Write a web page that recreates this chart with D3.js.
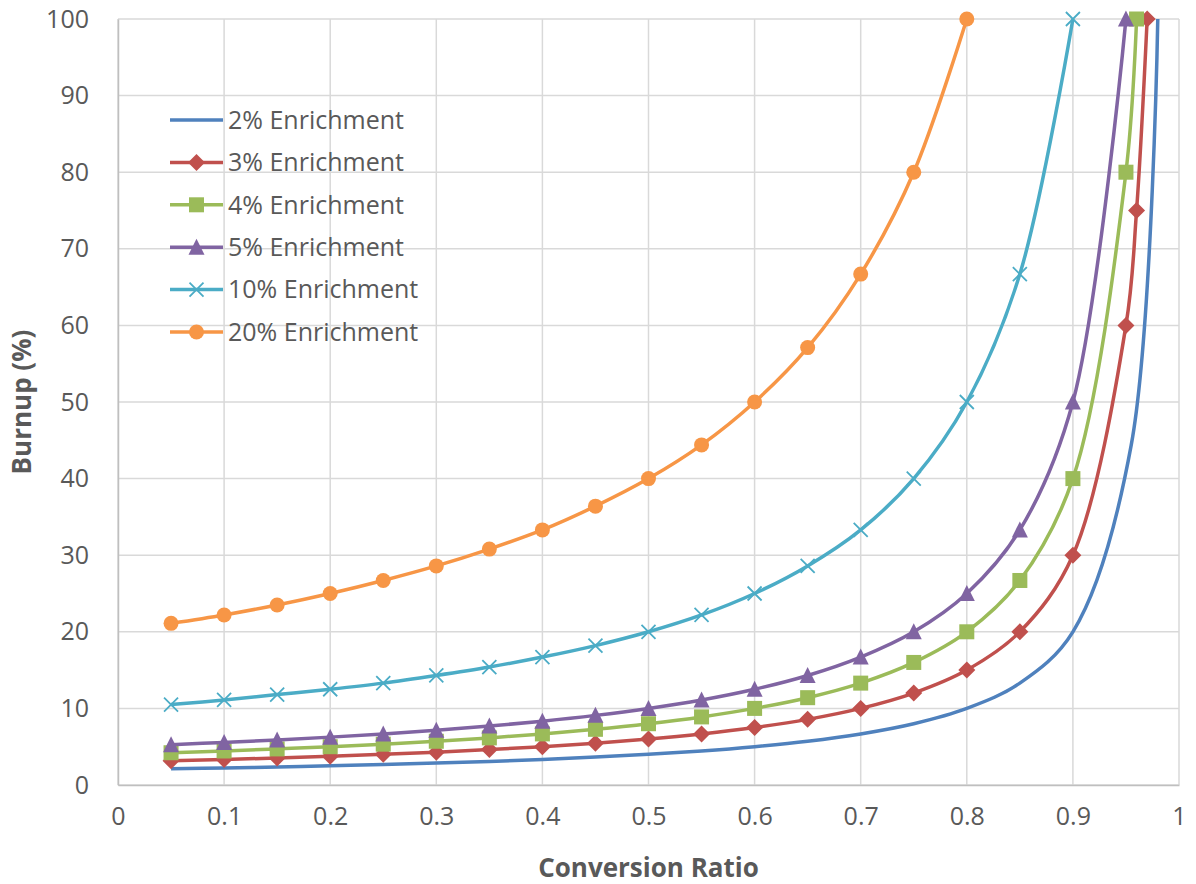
<!DOCTYPE html>
<html>
<head>
<meta charset="utf-8">
<script src="https://cdn.jsdelivr.net/npm/d3@7"></script>
<style>
  html, body { margin: 0; padding: 0; background: #ffffff; }
  svg { display: block; }
  text { font-family: "Open Sans", "Liberation Sans", sans-serif; }
</style>
</head>
<body>
<svg id="chart" width="1196" height="884"></svg>
<script>
// ---- data ----
const seriesNames = ["2% Enrichment", "3% Enrichment", "4% Enrichment", "5% Enrichment", "10% Enrichment", "20% Enrichment"];
const seriesColors = ["#4F81BD", "#C0504D", "#9BBB59", "#8064A2", "#4BACC6", "#F79646"];
const seriesMarkers = ["none", "diamond", "square", "triangle", "x", "circle"];

const cr2 = [0.05,0.10,0.15,0.20,0.25,0.30,0.35,0.40,0.45,0.50,0.55,0.60,0.65,0.70,0.75,0.80,0.85,0.90,0.955,0.98];
const bu2 = [2.11,2.22,2.35,2.50,2.67,2.86,3.08,3.33,3.64,4.00,4.44,5.00,5.71,6.67,8.00,10.0,13.3,20.0,44.4,100];

const cr3 = [0.05,0.10,0.15,0.20,0.25,0.30,0.35,0.40,0.45,0.50,0.55,0.60,0.65,0.70,0.75,0.80,0.85,0.90,0.95,0.96,0.97];
const bu3 = [3.16,3.33,3.53,3.75,4.00,4.29,4.62,5.00,5.45,6.00,6.67,7.50,8.57,10.0,12.0,15.0,20.0,30.0,60.0,75.0,100];

const cr4 = [0.05,0.10,0.15,0.20,0.25,0.30,0.35,0.40,0.45,0.50,0.55,0.60,0.65,0.70,0.75,0.80,0.85,0.90,0.95,0.96];
const bu4 = [4.21,4.44,4.71,5.00,5.33,5.71,6.15,6.67,7.27,8.00,8.89,10.0,11.4,13.3,16.0,20.0,26.7,40.0,80.0,100];

const cr5 = [0.05,0.10,0.15,0.20,0.25,0.30,0.35,0.40,0.45,0.50,0.55,0.60,0.65,0.70,0.75,0.80,0.85,0.90,0.95];
const bu5 = [5.26,5.56,5.88,6.25,6.67,7.14,7.69,8.33,9.09,10.0,11.1,12.5,14.3,16.7,20.0,25.0,33.3,50.0,100];

const cr10 = [0.05,0.10,0.15,0.20,0.25,0.30,0.35,0.40,0.45,0.50,0.55,0.60,0.65,0.70,0.75,0.80,0.85,0.90];
const bu10 = [10.5,11.1,11.8,12.5,13.3,14.3,15.4,16.7,18.2,20.0,22.2,25.0,28.6,33.3,40.0,50.0,66.7,100];

const cr20 = [0.05,0.10,0.15,0.20,0.25,0.30,0.35,0.40,0.45,0.50,0.55,0.60,0.65,0.70,0.75,0.80];
const bu20 = [21.1,22.2,23.5,25.0,26.7,28.6,30.8,33.3,36.4,40.0,44.4,50.0,57.1,66.7,80.0,100];

const xTicks = [0,0.1,0.2,0.3,0.4,0.5,0.6,0.7,0.8,0.9,1];
const xTickLabels = ["0","0.1","0.2","0.3","0.4","0.5","0.6","0.7","0.8","0.9","1"];
const yTicks = [0,10,20,30,40,50,60,70,80,90,100];

const xTitle = "Conversion Ratio";
const yTitle = "Burnup (%)";

const seriesX = [cr2, cr3, cr4, cr5, cr10, cr20];
const seriesY = [bu2, bu3, bu4, bu5, bu10, bu20];

// ---- layout ----
const svg = d3.select("#chart");
const plot = { left: 118, right: 1179, top: 19, bottom: 785 };
const x = d3.scaleLinear().domain([0, 1]).range([plot.left, plot.right]);
const y = d3.scaleLinear().domain([0, 100]).range([plot.bottom, plot.top]);
const textColor = "#595959";
const gridColor = "#D9D9D9";

// gridlines
const grid = svg.append("g");
grid.selectAll("line.v").data(xTicks).join("line")
  .attr("x1", d => x(d)).attr("x2", d => x(d))
  .attr("y1", plot.top).attr("y2", plot.bottom)
  .attr("stroke", gridColor).attr("stroke-width", 1.5);
grid.selectAll("line.h").data(yTicks).join("line")
  .attr("x1", plot.left).attr("x2", plot.right)
  .attr("y1", d => y(d)).attr("y2", d => y(d))
  .attr("stroke", gridColor).attr("stroke-width", 1.5);

// axes (labels only, using d3 axes)
const xAxis = d3.axisBottom(x).tickValues(xTicks).tickFormat((d, i) => xTickLabels[i]).tickSize(0).tickPadding(22);
const gx = svg.append("g").attr("transform", `translate(0,${plot.bottom})`).call(xAxis);
gx.select(".domain").attr("stroke", "#BFBFBF").attr("stroke-width", 1.5);
gx.selectAll("text").attr("fill", textColor).attr("font-size", 25).attr("font-family", "Open Sans");

const yAxis = d3.axisLeft(y).tickValues(yTicks).tickFormat(d3.format("d")).tickSize(0).tickPadding(29);
const gy = svg.append("g").attr("transform", `translate(${plot.left},0)`).call(yAxis);
gy.select(".domain").attr("stroke", "#BFBFBF").attr("stroke-width", 1.5);
gy.selectAll("text").attr("fill", textColor).attr("font-size", 25).attr("font-family", "Open Sans");

// axis titles
svg.append("text").text(xTitle)
  .attr("x", (plot.left + plot.right) / 2).attr("y", 877)
  .attr("text-anchor", "middle").attr("font-weight", "bold")
  .attr("font-size", 26).attr("fill", textColor);
svg.append("text").text(yTitle)
  .attr("transform", `translate(31,${(plot.top + plot.bottom) / 2}) rotate(-90)`)
  .attr("text-anchor", "middle").attr("font-weight", "bold")
  .attr("font-size", 26).attr("fill", textColor);

// marker drawing
function drawMarker(g, type, color, cx, cy) {
  if (type === "diamond") {
    const r = 8.5;
    g.append("path").attr("d", `M${cx},${cy - r}L${cx + r},${cy}L${cx},${cy + r}L${cx - r},${cy}Z`).attr("fill", color);
  } else if (type === "square") {
    const s = 15;
    g.append("rect").attr("x", cx - s / 2).attr("y", cy - s / 2).attr("width", s).attr("height", s).attr("fill", color);
  } else if (type === "triangle") {
    const h = 15, w = 16;
    g.append("path").attr("d", `M${cx},${cy - h / 2 - 1}L${cx + w / 2},${cy + h / 2}L${cx - w / 2},${cy + h / 2}Z`).attr("fill", color);
  } else if (type === "x") {
    const r = 7;
    g.append("path").attr("d", `M${cx - r},${cy - r}L${cx + r},${cy + r}M${cx - r},${cy + r}L${cx + r},${cy - r}`)
      .attr("stroke", color).attr("stroke-width", 1.8).attr("fill", "none");
  } else if (type === "circle") {
    g.append("circle").attr("cx", cx).attr("cy", cy).attr("r", 7.5).attr("fill", color);
  }
}

// series
const line = d3.line().x(d => x(d[0])).y(d => y(d[1])).curve(d3.curveCatmullRom.alpha(0.5));
const seriesG = svg.append("g");
seriesNames.forEach((name, i) => {
  const pts = seriesX[i].map((v, j) => [v, seriesY[i][j]]);
  const g = seriesG.append("g");
  g.append("path").datum(pts).attr("d", line)
    .attr("fill", "none").attr("stroke", seriesColors[i]).attr("stroke-width", 3.5)
    .attr("stroke-linejoin", "round");
  pts.forEach(p => drawMarker(g, seriesMarkers[i], seriesColors[i], x(p[0]), y(p[1])));
});

// legend
const legend = svg.append("g");
const legendRowY = d3.scaleLinear().domain([0, 5]).range([120, 332]);
seriesNames.forEach((name, i) => {
  const cy = legendRowY(i);
  legend.append("line").attr("x1", 170).attr("x2", 223).attr("y1", cy).attr("y2", cy)
    .attr("stroke", seriesColors[i]).attr("stroke-width", 3.5);
  drawMarker(legend, seriesMarkers[i], seriesColors[i], 196.5, cy);
  legend.append("text").text(name).attr("x", 228).attr("y", cy).attr("dy", "0.35em")
    .attr("font-size", 25).attr("fill", textColor);
});
</script>
</body>
</html>
